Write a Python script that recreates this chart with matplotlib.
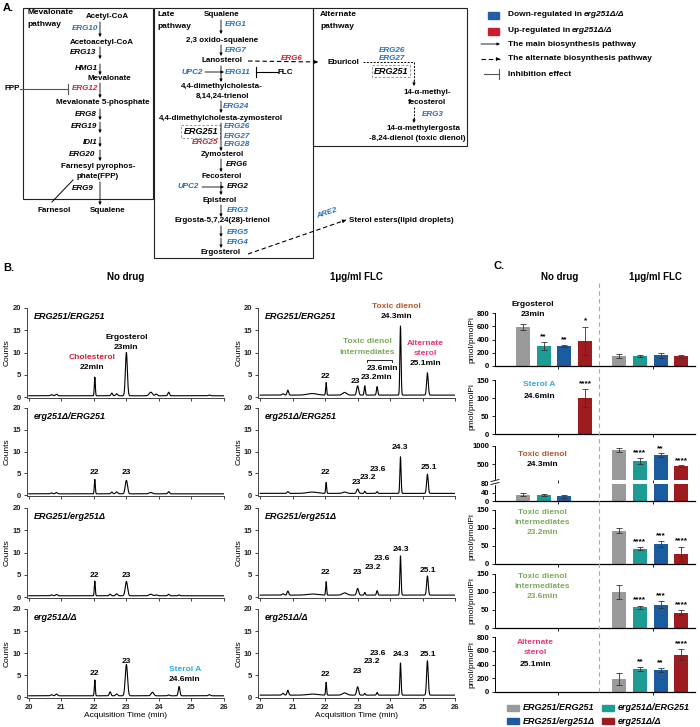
import numpy as np
import matplotlib
matplotlib.use('Agg')
import matplotlib.pyplot as plt
from matplotlib.patches import Rectangle

plt.rcParams['font.family'] = ['Liberation Sans', 'DejaVu Sans']
plt.rcParams['font.weight'] = 'bold'

W, H = 700, 727
fig = plt.figure(figsize=(W / 100, H / 100), dpi=100)

BLUE_G = '#2a6fb5'
RED_G = '#d1202f'
RED_L = '#d81f33'
CYAN = '#29abe2'
BROWN = '#b0572b'
GREEN = '#7aab5c'
PINK = '#e8357b'

# ---------------- data: panel B chromatograms (peak time, height, width) ----------------
genotypes = ['ERG251/ERG251', 'erg251Δ/ERG251', 'ERG251/erg251Δ', 'erg251Δ/Δ']

nodrug_base = [0.3, 0.3, 0.3, 0.3]
nodrug_peaks = [
    [(20.7, .25, .03), (20.85, .35, .03), (22.03, 4.2, .015), (22.55, .6, .025), (22.7, .45, .03),
     (23.0, 9.7, .03), (23.75, .8, .05), (23.92, .4, .03), (24.3, .8, .025), (25.55, .15, .03)],
    [(20.7, .2, .03), (20.85, .3, .03), (22.03, 3.3, .015), (22.55, .4, .025), (22.7, .45, .03),
     (23.0, 3.1, .035), (23.75, .3, .05), (24.3, .5, .025)],
    [(20.7, .2, .03), (20.85, .3, .03), (22.03, 3.3, .015), (22.5, .35, .025), (22.7, .45, .03),
     (23.0, 3.2, .035), (23.75, .35, .05), (23.92, .2, .03), (24.3, .35, .025), (24.62, .2, .02)],
    [(20.7, .25, .03), (20.85, .4, .03), (22.03, 3.6, .015), (22.5, .9, .025), (22.7, .4, .03),
     (23.0, 7.1, .035), (23.8, .8, .04), (24.3, .2, .025), (24.62, 2.1, .025), (25.55, .25, .03)],
]
flc_base = [0.45, 0.4, 0.45, 0.45]
flc_peaks = [
    [(20.7, .3, .03), (20.85, 1.1, .025), (21.6, .35, .15), (22.03, 2.8, .015), (22.6, .6, .06),
     (23.0, 2.1, .03), (23.22, 2.1, .018), (23.6, 1.9, .02), (24.32, 15.5, .018), (25.15, 5.0, .025)],
    [(20.85, .4, .025), (21.6, .3, .15), (22.03, 2.5, .015), (22.6, .3, .06), (23.0, 1.0, .03),
     (23.22, .5, .018), (23.6, .4, .02), (24.32, 8.4, .018), (25.15, 4.4, .025)],
    [(20.7, .3, .03), (20.85, .9, .025), (21.6, .25, .15), (22.03, 3.0, .015), (22.6, .5, .07),
     (23.0, 1.5, .03), (23.22, .6, .018), (23.6, 1.0, .02), (24.32, 8.8, .018), (25.15, 4.3, .025)],
    [(20.7, .4, .03), (20.85, 1.1, .025), (21.6, .25, .15), (22.03, 2.9, .015), (22.6, .5, .07),
     (23.0, 1.9, .03), (23.22, .4, .018), (23.6, .6, .02), (24.32, 7.3, .018), (25.15, 7.8, .025)],
]

# peak labels (text, x, y, colour)
nodrug_labels = [
    [('Cholesterol', 21.94, 8.9, RED_L), ('22min', 21.94, 6.7, 'k'),
     ('Ergosterol', 23.0, 13.3, 'k'), ('23min', 23.0, 11.1, 'k')],
    [('22', 22.03, 5.2, 'k'), ('23', 23.0, 5.2, 'k')],
    [('22', 22.03, 4.9, 'k'), ('23', 23.0, 4.9, 'k')],
    [('22', 22.03, 5.4, 'k'), ('23', 23.0, 8.1, 'k'),
     ('Sterol A', 24.8, 6.3, CYAN), ('24.6min', 24.8, 4.0, 'k')],
]
flc_labels = [
    [('22', 22.0, 4.7, 'k'), ('Toxic dienol', 24.2, 20.4, BROWN), ('24.3min', 24.2, 18.2, 'k'),
     ('Toxic dienol', 23.3, 12.4, GREEN), ('intermediates', 23.3, 10.1, GREEN),
     ('Alternate', 25.1, 12.1, PINK), ('sterol', 25.1, 9.9, PINK), ('25.1min', 25.1, 7.6, 'k'),
     ('23.6min', 23.75, 6.5, 'k'), ('23.2min', 23.58, 4.5, 'k'), ('23', 22.92, 3.6, 'k')],
    [('22', 22.0, 5.3, 'k'), ('23', 22.97, 2.9, 'k'), ('23.2', 23.32, 4.1, 'k'),
     ('23.6', 23.63, 5.9, 'k'), ('24.3', 24.3, 11.0, 'k'), ('25.1', 25.2, 6.4, 'k')],
    [('22', 22.0, 5.6, 'k'), ('23', 23.0, 5.6, 'k'), ('23.2', 23.48, 6.7, 'k'),
     ('23.6', 23.74, 8.7, 'k'), ('24.3', 24.34, 10.6, 'k'), ('25.1', 25.15, 6.0, 'k')],
    [('22', 22.0, 5.2, 'k'), ('23', 22.98, 5.8, 'k'), ('23.2', 23.45, 8.1, 'k'),
     ('23.6', 23.63, 10.0, 'k'), ('24.3', 24.34, 9.7, 'k'), ('25.1', 25.15, 9.7, 'k')],
]
bracket_x = [23.3, 23.3, 24.06, 24.06]
bracket_y = [7.9, 8.4, 8.4, 7.9]

# ---------------- data: panel C bars ----------------
strains = ['ERG251/ERG251', 'erg251Δ/ERG251', 'ERG251/erg251Δ', 'erg251Δ/Δ']
bar_colors = ['#9a9a9a', '#1c9c94', '#1b5c9e', '#9e1b20']
nan = np.nan
ergo_mean = [590, 300, 300, 380, 150, 155, 160, 145]
ergo_err = [40, 55, 15, 215, 30, 12, 35, 20]
ergo_star = ['', '**', '**', '*', '', '', '', '']
sterA_mean = [nan, nan, nan, 100, nan, nan, nan, nan]
sterA_err = [nan, nan, nan, 25, nan, nan, nan, nan]
sterA_star = ['', '', '', '****', '', '', '', '']
dienol_mean = [30, 28, 22, nan, 890, 600, 750, 450]
dienol_err = [8, 3, 8, nan, 60, 80, 50, 30]
dienol_star = ['', '', '', '', '', '****', '**', '****']
int232_mean = [nan, nan, nan, nan, 92, 43, 55, 28]
int232_err = [nan, nan, nan, nan, 7, 3, 8, 20]
int232_star = ['', '', '', '', '', '****', '***', '****']
int236_mean = [nan, nan, nan, nan, 100, 57, 65, 42]
int236_err = [nan, nan, nan, nan, 20, 5, 10, 7]
int236_star = ['', '', '', '', '', '****', '***', '****']
alt_mean = [nan, nan, nan, nan, 185, 330, 315, 540]
alt_err = [nan, nan, nan, nan, 90, 30, 30, 80]
alt_star = ['', '', '', '', '', '**', '**', '****']


def px_axes(x0, y0, x1, y1):
    return fig.add_axes([x0 / W, 1 - y1 / H, (x1 - x0) / W, (y1 - y0) / H])


# ================= panel B =================
t = np.linspace(20, 26, 2400)
rows_px = [(308, 398), (408, 496), (508, 598), (609, 698)]
cols = [(26.5, 224, nodrug_base, nodrug_peaks, nodrug_labels),
        (258, 455, flc_base, flc_peaks, flc_labels)]
chrom_axes = []
for x0, x1, bases, peaks, labels in cols:
    for r, (y0, y1) in enumerate(rows_px):
        ax = px_axes(x0, y0, x1, y1)
        ax.patch.set_alpha(0)
        trace = np.full_like(t, bases[r])
        for pt, ph, pw in peaks[r]:
            trace += ph * np.exp(-0.5 * ((t - pt) / pw) ** 2)
        ax.plot(t, trace, color='k', lw=0.8)
        for s, lx, ly, c in labels[r]:
            ax.text(lx, ly, s, color=c, fontsize=6, ha='center', va='center')
        ax.text(20.15, 18.0, genotypes[r], fontsize=6.5, style='italic', ha='left', va='center')
        ax.set_xlim(19.93, 26.0)
        ax.set_ylim(-0.2, 20)
        ax.set_yticks([0, 5, 10, 15, 20])
        ax.set_xticks(range(20, 27))
        for sp in ['top', 'right']:
            ax.spines[sp].set_visible(False)
        for sp in ['left', 'bottom']:
            ax.spines[sp].set_linewidth(0.7)
            ax.spines[sp].set_color('#444')
        ax.tick_params(length=2.5, width=0.6, labelsize=5.5, pad=1.5, colors='#222')
        ax.set_ylabel('Counts', fontsize=6, labelpad=1)
        if r < 3:
            ax.set_xticklabels([])
        else:
            ax.set_xlabel('Acquisition Time (min)', fontsize=6, labelpad=1)
        chrom_axes.append(ax)

# bracket over the intermediates on FLC row 1
chrom_axes[4].plot(bracket_x, bracket_y, color='k', lw=0.6)

# ================= panel C =================
xpos = np.array([0, 1, 2, 3, 4.64, 5.64, 6.64, 7.64])
bw = 0.68


def bar_axes(y0, y1, ylim, yticks, means, errs, stars, bottom=True):
    ax = px_axes(495, y0, 695, y1)
    ax.patch.set_alpha(0)
    ax.bar(xpos, means, bw, color=bar_colors * 2)
    ax.errorbar(xpos, means, yerr=errs, fmt='none', ecolor='#333', elinewidth=0.6,
                capsize=2.2, capthick=0.6)
    span = ylim[1] - ylim[0]
    for xi, m, e, s in zip(xpos, means, errs, stars):
        if s:
            ax.text(xi, m + e + 0.04 * span, s, fontsize=6, ha='center', va='bottom')
    ax.set_xlim(-1.35, 8.3)
    ax.set_ylim(ylim)
    ax.set_yticks(yticks)
    ax.set_xticks([1.7, 6.25])
    ax.set_xticklabels([])
    for sp in ['top', 'right']:
        ax.spines[sp].set_visible(False)
    ax.spines['left'].set_linewidth(0.7)
    ax.spines['bottom'].set_linewidth(0.9)
    if not bottom:
        ax.spines['bottom'].set_visible(False)
        ax.tick_params(axis='x', length=0)
    ax.tick_params(length=2.5, width=0.6, labelsize=5.5, pad=1.5)
    return ax


a1 = bar_axes(313, 366, (0, 800), [0, 200, 400, 600, 800], ergo_mean, ergo_err, ergo_star)
a2 = bar_axes(380, 434, (0, 150), [0, 50, 100, 150], sterA_mean, sterA_err, sterA_star)
a3 = bar_axes(446, 480, (80, 1000), [500, 1000], dienol_mean, dienol_err, dienol_star, bottom=False)
a3b = bar_axes(484, 501, (0, 80), [0, 40, 80], dienol_mean, dienol_err, [''] * 8)
a4 = bar_axes(510, 564, (0, 150), [0, 50, 100, 150], int232_mean, int232_err, int232_star)
a5 = bar_axes(574, 628, (0, 150), [0, 50, 100, 150], int236_mean, int236_err, int236_star)
a6 = bar_axes(637, 692, (0, 800), [0, 200, 400, 600, 800], alt_mean, alt_err, alt_star)
for a in [a1, a2, a4, a5, a6]:
    a.set_ylabel('pmol/pmolPi', fontsize=6, labelpad=1)

# ================= overlay for panel A, headers, legends =================
ov = fig.add_axes([0, 0, 1, 1], zorder=10)
ov.set_xlim(0, W)
ov.set_ylim(H, 0)
ov.axis('off')
ov.patch.set_alpha(0)


def tx(x, y, s, c='k', it=False, size=5.8, ha='center', **kw):
    return ov.text(x, y, s, color=c, fontsize=size, style='italic' if it else 'normal',
                   ha=ha, va='center', **kw)


def arrow(x0, y0, x1, y1, dashed=False):
    if dashed:
        ov.plot([x0, x1], [y0, y1], color='k', lw=0.8, ls=(0, (4, 2.5)))
        d = np.hypot(x1 - x0, y1 - y0)
        ov.annotate('', xy=(x1, y1), xytext=(x1 - (x1 - x0) / d * 3, y1 - (y1 - y0) / d * 3),
                    arrowprops=dict(arrowstyle='-|>', lw=0.6, color='k', mutation_scale=5,
                                    shrinkA=0, shrinkB=0))
    else:
        ov.annotate('', xy=(x1, y1), xytext=(x0, y0),
                    arrowprops=dict(arrowstyle='-|>', lw=0.6, color='k', mutation_scale=4,
                                    shrinkA=0, shrinkB=0))


def inhibit(x0, x1, y, c='k'):
    ov.plot([x0, x1], [y, y], color=c, lw=0.8)
    ov.plot([x1, x1], [y - 5, y + 5], color=c, lw=0.8)


# ---- panel A boxes
for bx0, by0, bx1, by1 in [(23, 8, 153, 199), (154, 8, 313, 258), (313, 8, 467, 146)]:
    ov.add_patch(Rectangle((bx0, by0), bx1 - bx0, by1 - by0, fill=False, lw=0.8, ec='#222'))
tx(3, 8, 'A.', size=8, ha='left')
tx(27, 12, 'Mevalonate', size=6, ha='left')
tx(27, 25, 'pathway', size=6, ha='left')

# mevalonate pathway
tx(107, 17, 'Acetyl-CoA')
tx(85, 28, 'ERG10', BLUE_G, True)
arrow(100, 22, 100, 37)
tx(102, 42, 'Acetoacetyl-CoA')
tx(83, 53, 'ERG13', it=True)
arrow(100, 47, 100, 59)
tx(86, 69, 'HMG1', it=True)
arrow(100, 64, 100, 75)
tx(109, 79, 'Mevalonate')
tx(85, 89, 'ERG12', RED_G, True)
arrow(100, 83, 100, 98)
tx(12, 89, 'FPP')
inhibit(20, 68, 89, '#555')
tx(103, 103, 'Mevalonate 5-phosphate')
tx(86, 115, 'ERG8', it=True)
arrow(100, 109, 100, 120)
tx(84, 127, 'ERG19', it=True)
arrow(100, 122, 100, 133)
tx(90, 142, 'IDI1', it=True)
arrow(100, 137, 100, 147)
tx(82, 155, 'ERG20', it=True)
arrow(100, 150, 100, 161)
tx(98, 166, 'Farnesyl pyrophos-')
tx(98, 176, 'phate(FPP)')
tx(83, 188, 'ERG9', it=True)
arrow(100, 182, 100, 205)
tx(108, 211, 'Squalene')
tx(54, 211, 'Farnesol')
ov.plot([73, 52], [180, 202], color='k', lw=0.7)

# late pathway
tx(157, 15, 'Late', size=6, ha='left')
tx(157, 26, 'pathway', size=6, ha='left')
tx(222, 14, 'Squalene')
arrow(221, 20, 221, 34)
tx(236, 25, 'ERG1', BLUE_G, True)
tx(222, 40, '2,3 oxido-squalene')
arrow(221, 45, 221, 56)
tx(236, 51, 'ERG7', BLUE_G, True)
tx(222, 61, 'Lanosterol')
arrow(221, 66, 221, 82)
tx(192, 72, 'UPC2', BLUE_G, True)
arrow(205, 72, 224, 72)
tx(238, 72, 'ERG11', BLUE_G, True)
inhibit(278, 256, 72)
tx(285, 72, 'FLC')
tx(222, 86, '4,4-dimethylcholesta-')
tx(222, 96, '8,14,24-trienol')
arrow(221, 101, 221, 113)
tx(236, 107, 'ERG24', BLUE_G, True)
tx(221, 118, '4,4-dimethylcholesta-zymosterol')
arrow(221, 123, 221, 151)
ov.add_patch(Rectangle((181, 125), 39, 13, fill=False, lw=0.6, ec='#888', ls=(0, (3, 2))))
tx(201, 132, 'ERG251', it=True, size=6.5)
tx(205, 143, 'ERG25', RED_G, True)
tx(237, 127, 'ERG26', BLUE_G, True)
tx(237, 136, 'ERG27', BLUE_G, True)
tx(237, 145, 'ERG28', BLUE_G, True)
tx(222, 155, 'Zymosterol')
arrow(221, 159, 221, 172)
tx(237, 164, 'ERG6', it=True)
tx(222, 177, 'Fecosterol')
arrow(221, 182, 221, 195)
tx(188, 187, 'UPC2', BLUE_G, True)
arrow(202, 187, 224, 187)
tx(238, 187, 'ERG2', it=True)
tx(220, 200, 'Episterol')
arrow(221, 205, 221, 217)
tx(238, 210, 'ERG3', BLUE_G, True)
tx(222, 221, 'Ergosta-5,7,24(28)-trienol')
arrow(221, 226, 221, 237)
arrow(221, 238, 221, 248)
tx(238, 232, 'ERG5', BLUE_G, True)
tx(238, 243, 'ERG4', BLUE_G, True)
tx(221, 253, 'Ergosterol')
arrow(248, 254, 346, 220, dashed=True)
tx(327, 213, 'ARE2', BLUE_G, True, rotation=18)
tx(349, 220, 'Sterol esters(lipid droplets)', ha='left')

# alternate pathway
tx(320, 15, 'Alternate', size=6, ha='left')
tx(320, 26, 'pathway', size=6, ha='left')
arrow(248, 61, 318, 62, dashed=True)
tx(292, 58, 'ERG6', RED_G, True)
tx(343, 63, 'Eburicol')
ov.plot([363, 414, 414], [62, 62, 82], color='k', lw=0.7, ls=(0, (2, 1.5)))
arrow(414, 81, 414, 86)
tx(392, 50, 'ERG26', BLUE_G, True)
tx(392, 58, 'ERG27', BLUE_G, True)
ov.add_patch(Rectangle((372, 65), 38, 12, fill=False, lw=0.6, ec='#888', ls=(0, (3, 2))))
tx(391, 71, 'ERG251', it=True, size=6.5)
tx(427, 92, '14-α-methyl-')
tx(427, 102, 'fecosterol')
ov.plot([414, 414], [107, 119], color='k', lw=0.7, ls=(0, (2, 1.5)))
arrow(414, 118, 414, 123)
tx(433, 114, 'ERG3', BLUE_G, True)
tx(423, 128, '14-α-methylergosta')
tx(417, 138, '-8,24-dienol (toxic dienol)')

# panel A legend
renderer = fig.canvas.get_renderer()


def rich(x, y, parts, size=6):
    for s, it in parts:
        tt = ov.text(x, y, s, fontsize=size, style='italic' if it else 'normal',
                     ha='left', va='center')
        x += tt.get_window_extent(renderer).width + 1.5


ov.add_patch(Rectangle((488, 12), 11, 7, color='#1f5fa8'))
rich(508, 15, [('Down-regulated in', False), ('erg251Δ/Δ', True)])
ov.add_patch(Rectangle((488, 28), 11, 7, color='#c81e2e'))
rich(508, 31, [('Up-regulated in', False), ('erg251Δ/Δ', True)])
arrow(481, 44, 500, 44)
tx(508, 44, 'The main biosynthesis pathway', size=6, ha='left')
arrow(481, 59, 500, 59, dashed=True)
tx(508, 59, 'The alternate biosynthesis pathway', size=6, ha='left')
inhibit(484, 499, 74, '#555')
tx(508, 74, 'Inhibition effect', size=6, ha='left')

# ---- headers B / C
tx(3, 268, 'B.', size=8, ha='left')
tx(126, 277, 'No drug', size=7)
tx(356, 277, '1μg/ml FLC', size=7)
tx(493, 266, 'C.', size=8, ha='left')
tx(560, 277, 'No drug', size=7)
tx(655, 277, '1μg/ml FLC', size=7)

# panel C compound labels
c_labels = [
    ('Ergosterol', 533, 305, 'k'), ('23min', 533, 315, 'k'),
    ('Sterol A', 539, 385, CYAN), ('24.6min', 539, 396, 'k'),
    ('Toxic dienol', 542, 454, BROWN), ('24.3min', 542, 464, 'k'),
    ('Toxic dienol', 542, 513, GREEN), ('intermediates', 542, 523, GREEN), ('23.2min', 542, 533, GREEN),
    ('Toxic dienol', 542, 577, GREEN), ('intermediates', 542, 587, GREEN), ('23.6min', 542, 597, GREEN),
    ('Alternate', 535, 643, PINK), ('sterol', 535, 653, PINK), ('25.1min', 535, 664, 'k'),
]
for s, lx, ly, c in c_labels:
    tx(lx, ly, s, c, size=6)

# dashed divider
ov.plot([599, 599], [283, 692], color='#aaa', lw=0.8, ls=(0, (4, 3)))

# axis break marks
ov.add_patch(Rectangle((491, 480), 8, 4, color='white', zorder=3))
ov.plot([491, 499], [481.5, 479.5], color='k', lw=0.6, zorder=4)
ov.plot([491, 499], [484.5, 482.5], color='k', lw=0.6, zorder=4)

# panel C legend
leg = [(507, 708, 0), (602, 708, 1), (507, 721, 2), (602, 721, 3)]
for lx, ly, k in leg:
    ov.add_patch(Rectangle((lx, ly - 3), 12, 6, color=bar_colors[k]))
    tx(lx + 15.5, ly, strains[k], it=True, size=6.5, ha='left')

fig.savefig('out.png', dpi=100)
